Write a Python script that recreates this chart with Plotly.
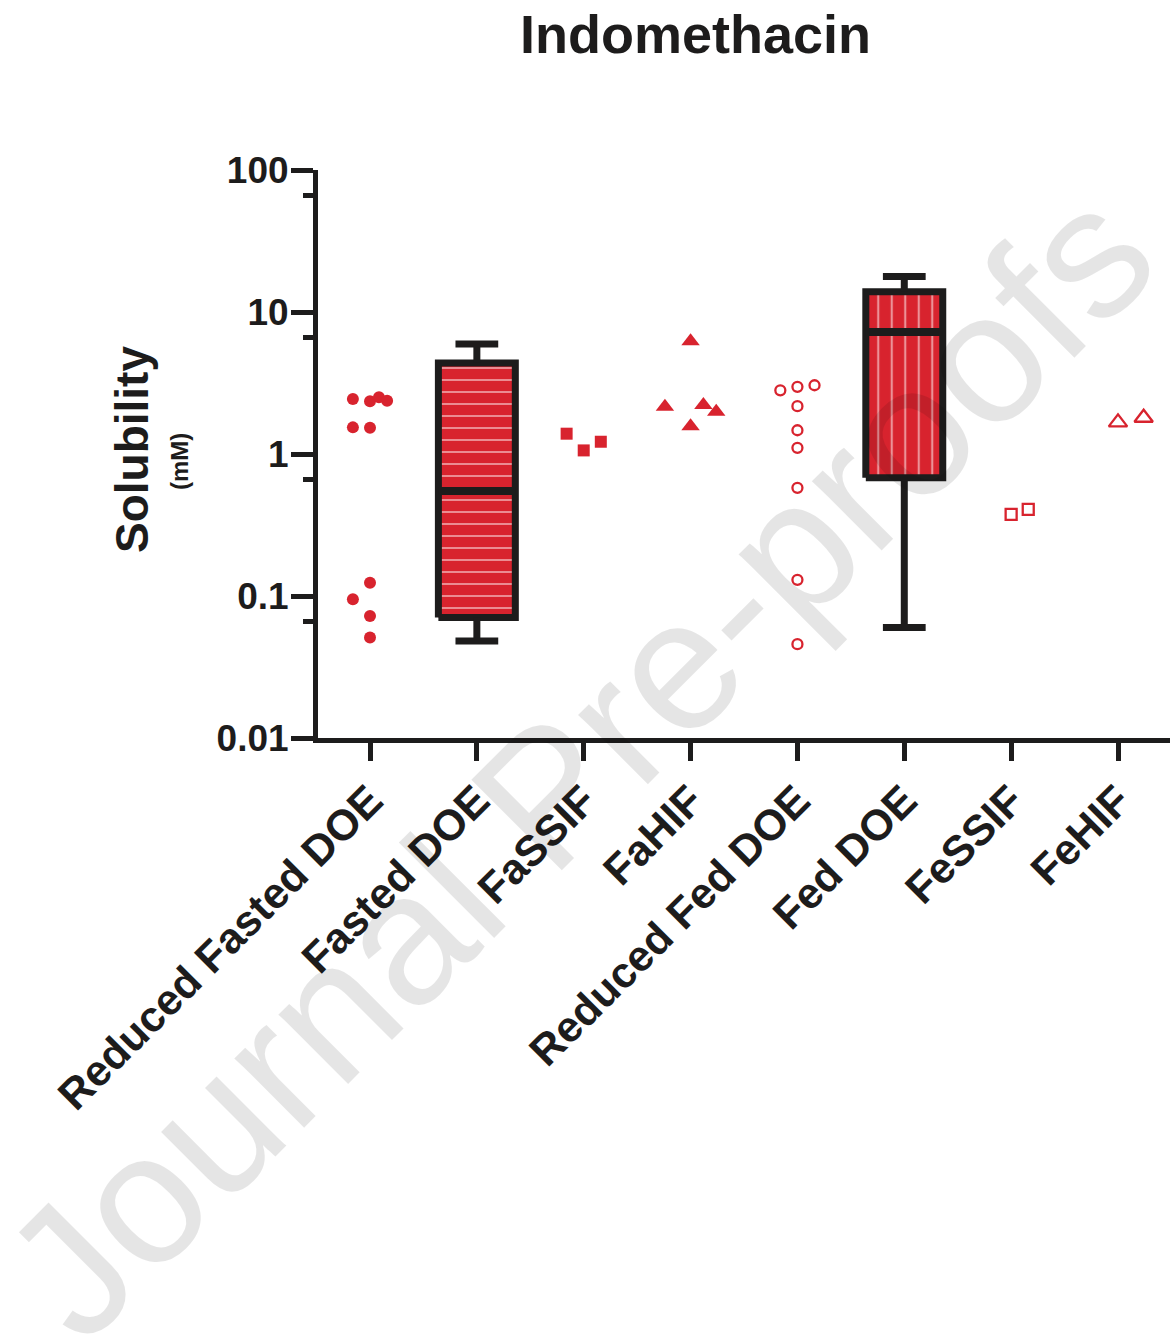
import plotly.graph_objects as go

# ---------------- data ----------------
categories = ["Reduced Fasted DOE", "Fasted DOE", "FaSSIF", "FaHIF",
              "Reduced Fed DOE", "Fed DOE", "FeSSIF", "FeHIF"]

reduced_fasted_doe = [2.44, 2.35, 2.51, 2.37, 1.54, 1.53, 0.124, 0.0948, 0.0724, 0.0510]
reduced_fasted_doe_jitter = [-0.16, 0.0, 0.084, 0.16, -0.16, 0.0, 0.0, -0.16, 0.0, 0.0]

fassif = [1.39, 1.06, 1.22]
fassif_jitter = [-0.16, 0.0, 0.16]

fahif = [6.23, 2.15, 2.21, 1.98, 1.57]
fahif_jitter = [0.0, -0.24, 0.12, 0.24, 0.0]

reduced_fed_doe = [2.81, 2.97, 3.05, 2.17, 1.47, 1.105, 0.578, 0.130, 0.0458]
reduced_fed_doe_jitter = [-0.16, 0.0, 0.16, 0.0, 0.0, 0.0, 0.0, 0.0, 0.0]

fessif = [0.376, 0.407]
fessif_jitter = [0.0, 0.16]

fehif = [1.67, 1.80]
fehif_jitter = [0.0, 0.24]

box_categories = ["Fasted DOE", "Fed DOE"]
box_min = [0.0483, 0.060]
box_q1 = [0.0705, 0.68]
box_median = [0.548, 7.23]
box_q3 = [4.38, 13.9]
box_max = [5.95, 17.8]
box_patterns = ["-", "|"]

y_tick_vals = [0.01, 0.1, 1, 10, 100]
y_tick_text = ["0.01", "0.1", "1", "10", "100"]
y_minor_vals = [0.066, 0.66, 6.6, 66]

# ---------------- style ----------------
RED = "#d8232e"
BLACK = "#1d1c1c"
FONT = "Liberation Sans, Arial, sans-serif"
BOX_HALF = 0.36
CAP_HALF = 0.2
LW = 7

fig = go.Figure()


def pos(cat, jitter):
    i = categories.index(cat)
    return [i + j for j in jitter]


def add_points(cat, values, jitter, symbol, size, lw=0):
    fig.add_trace(go.Scatter(
        x=pos(cat, jitter), y=values, mode="markers",
        marker=dict(symbol=symbol, size=size, color=RED,
                    line=dict(color=RED, width=lw)),
        showlegend=False, hoverinfo="y"))


add_points("Reduced Fasted DOE", reduced_fasted_doe, reduced_fasted_doe_jitter, "circle", 12)
add_points("FaSSIF", fassif, fassif_jitter, "square", 12)
add_points("FaHIF", fahif, fahif_jitter, "triangle-up", 16)
add_points("Reduced Fed DOE", reduced_fed_doe, reduced_fed_doe_jitter, "circle-open", 10, 2.3)
add_points("FeSSIF", fessif, fessif_jitter, "square-open", 11, 2.3)
add_points("FeHIF", fehif, fehif_jitter, "triangle-up-open", 16, 2.3)

for k, cat in enumerate(box_categories):
    i = categories.index(cat)
    x0, x1 = i - BOX_HALF, i + BOX_HALF
    # patterned box body
    fig.add_trace(go.Scatter(
        x=[x0, x1, x1, x0, x0],
        y=[box_q1[k], box_q1[k], box_q3[k], box_q3[k], box_q1[k]],
        mode="lines", fill="toself", fillcolor=RED,
        fillpattern=dict(shape=box_patterns[k], fgcolor="white", bgcolor=RED,
                         size=12 if box_patterns[k] == "-" else 13.5, solidity=0.16),
        line=dict(color=BLACK, width=LW), showlegend=False, hoverinfo="skip"))
    # median
    fig.add_trace(go.Scatter(
        x=[x0, x1], y=[box_median[k], box_median[k]], mode="lines",
        line=dict(color=BLACK, width=LW + 1), showlegend=False, hoverinfo="skip"))
    # whiskers with caps
    fig.add_trace(go.Scatter(
        x=[i, i, None, i - CAP_HALF, i + CAP_HALF, None,
           i, i, None, i - CAP_HALF, i + CAP_HALF],
        y=[box_q3[k], box_max[k], None, box_max[k], box_max[k], None,
           box_q1[k], box_min[k], None, box_min[k], box_min[k]],
        mode="lines", line=dict(color=BLACK, width=LW),
        showlegend=False, hoverinfo="skip"))

W, H = 1170, 1342
ML, MR, MT, MB = 318, 0, 170, 604
plot_w = W - ML - MR
plot_h = H - MT - MB
cat_px = 106.86
x_lo = -(370 - ML) / cat_px
x_hi = 7 + (W - MR - 1118) / cat_px

fig.update_layout(
    width=W, height=H,
    margin=dict(l=ML, r=MR, t=MT, b=MB, autoexpand=False),
    plot_bgcolor="white", paper_bgcolor="white",
    font=dict(family=FONT, color=BLACK),
    showlegend=False,
    xaxis=dict(
        range=[x_lo, x_hi], tickmode="array",
        tickvals=list(range(len(categories))), ticktext=categories,
        tickangle=-45, ticks="outside", ticklen=18, tickwidth=5, tickcolor=BLACK,
        ticklabelstandoff=-3,
        showline=True, linecolor=BLACK, linewidth=5, showgrid=False, zeroline=False,
        tickfont=dict(family=FONT, size=43, weight="bold", color=BLACK),
    ),
    yaxis=dict(
        type="log", range=[-2, 2], tickmode="array",
        tickvals=y_tick_vals, ticktext=y_tick_text,
        ticks="outside", ticklen=22, tickwidth=5, tickcolor=BLACK,
        ticklabelstandoff=-5,
        minor=dict(tickmode="array", tickvals=y_minor_vals, ticks="outside",
                   ticklen=10, tickwidth=5, tickcolor=BLACK, showgrid=False),
        showline=True, linecolor=BLACK, linewidth=5, showgrid=False, zeroline=False,
        tickfont=dict(family=FONT, size=37, weight="bold", color=BLACK),
    ),
)

fig.add_annotation(text="Indomethacin", xref="paper", yref="paper",
                   x=(695.5 - ML) / plot_w, y=1, yshift=136,
                   xanchor="center", yanchor="middle", showarrow=False,
                   font=dict(family=FONT, size=54, weight="bold", color=BLACK))
fig.add_annotation(text="Solubility", xref="paper", yref="paper",
                   x=0, xshift=132 - ML, y=0.5, yshift=plot_h / 2 + MT - 450,
                   xanchor="center", yanchor="middle", textangle=-90, showarrow=False,
                   font=dict(family=FONT, size=46, weight="bold", color=BLACK))
fig.add_annotation(text="(mM)", xref="paper", yref="paper",
                   x=0, xshift=179 - ML, y=0.5, yshift=plot_h / 2 + MT - 462,
                   xanchor="center", yanchor="middle", textangle=-90, showarrow=False,
                   font=dict(family=FONT, size=24, weight="bold", color=BLACK))

# watermark
fig.add_annotation(text="Journal Pre-proofs", xref="paper", yref="paper",
                   x=(578 - ML) / plot_w, y=1 - (762 - MT) / plot_h,
                   xanchor="center", yanchor="middle", textangle=-45, showarrow=False,
                   font=dict(family=FONT, size=186, color="rgba(0,0,0,0.1)"))

fig.write_html("out.html")
